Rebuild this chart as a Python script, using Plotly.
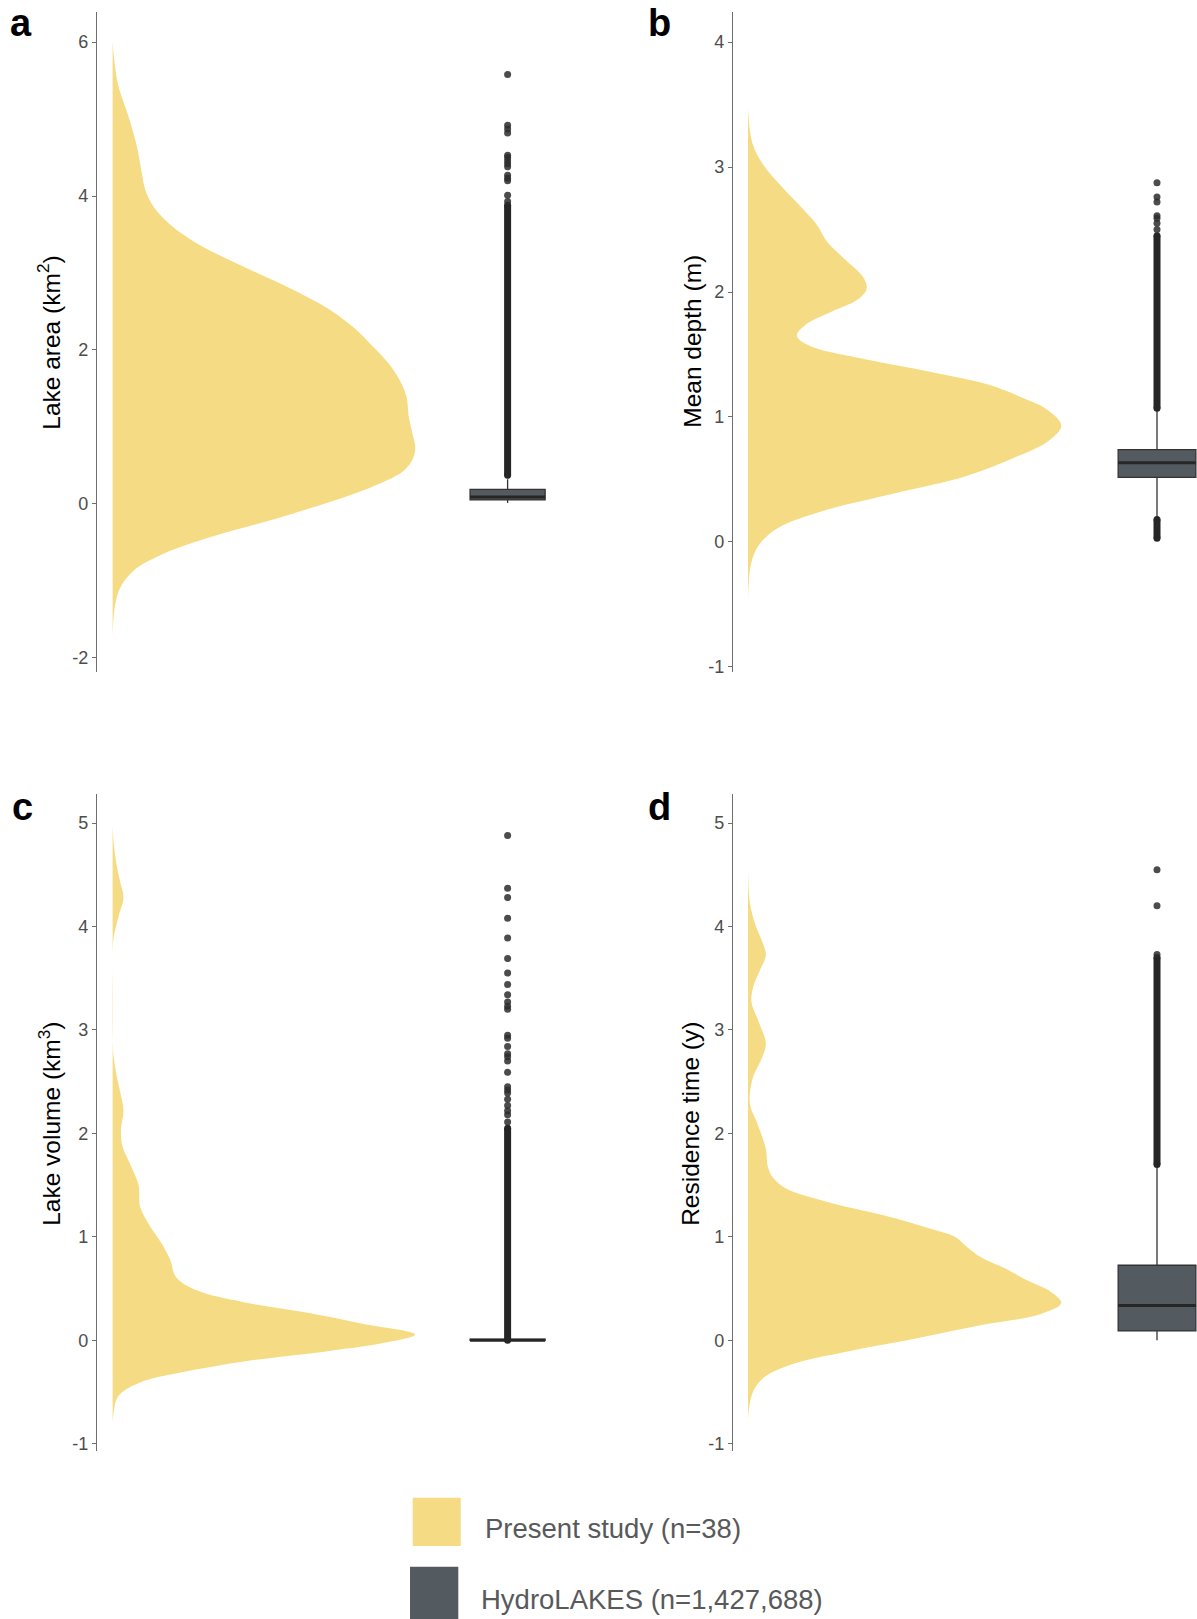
import plotly.graph_objects as go

W, H = 1197, 1619

# ---------------- data ----------------
# Half-violin outlines for the present study: value along the axis and
# relative density width (1 = widest point of that violin)
area_vio_y = [-1.75, -1.55, -1.32, -1.10, -0.87, -0.65, -0.42, -0.20, 0.03, 0.20, 0.37, 0.46,
              0.55, 0.65, 0.75, 0.93, 1.15, 1.38, 1.60, 1.83, 2.06, 2.28, 2.51, 2.73, 2.96,
              3.18, 3.41, 3.63, 3.86, 4.08, 4.31, 4.65, 5.04, 5.43, 5.75, 6.00]
area_vio_w = [0.0, 0.002, 0.008, 0.024, 0.069, 0.168, 0.335, 0.534, 0.723, 0.845, 0.94, 0.97,
              0.988, 0.998, 1.0, 0.99, 0.978, 0.972, 0.95, 0.911, 0.856, 0.80, 0.723, 0.623, 0.50,
              0.379, 0.268, 0.19, 0.135, 0.108, 0.096, 0.08, 0.052, 0.019, 0.006, 0.0]

depth_vio_y = [-0.51, -0.34, -0.16, -0.02, 0.11, 0.25, 0.39, 0.53, 0.67, 0.81, 0.93, 1.05, 1.15,
               1.26, 1.36, 1.46, 1.57, 1.65, 1.74, 1.84, 1.95, 2.03, 2.12, 2.26, 2.40, 2.54,
               2.67, 2.85, 3.02, 3.19, 3.47]
depth_vio_w = [0.0, 0.002, 0.011, 0.036, 0.094, 0.242, 0.47, 0.70, 0.846, 0.96, 1.0, 0.96, 0.88,
               0.766, 0.584, 0.379, 0.196, 0.156, 0.185, 0.265, 0.356, 0.379, 0.367, 0.31, 0.253,
               0.219, 0.173, 0.105, 0.048, 0.014, 0.0]

volume_vio_y = [-0.79, -0.71, -0.54, -0.41, -0.31, -0.20, -0.11, -0.03, 0.055, 0.16, 0.27, 0.37,
                0.48, 0.61, 0.78, 0.95, 1.12, 1.29, 1.50, 1.71, 1.88, 2.05, 2.22, 2.40, 2.56,
                2.75, 2.90, 3.62, 3.88, 4.09, 4.28, 4.43, 4.60, 4.80, 4.98]
volume_vio_w = [0.0, 0.003, 0.019, 0.089, 0.229, 0.445, 0.70, 0.89, 1.0, 0.826, 0.635, 0.43,
                0.28, 0.21, 0.19, 0.159, 0.12, 0.091, 0.086, 0.057, 0.032, 0.028, 0.036, 0.025,
                0.013, 0.003, 0.0, 0.0, 0.003, 0.019, 0.036, 0.025, 0.013, 0.004, 0.0]

restime_vio_y = [-0.79, -0.66, -0.49, -0.36, -0.23, -0.11, 0.02, 0.15, 0.25, 0.36, 0.47, 0.57,
                 0.70, 0.80, 0.90, 1.00, 1.08, 1.21, 1.34, 1.47, 1.57, 1.68, 1.85, 2.10, 2.29,
                 2.53, 2.74, 2.87, 3.08, 3.27, 3.42, 3.59, 3.72, 3.85, 4.02, 4.23, 4.55]
restime_vio_w = [0.0, 0.003, 0.017, 0.051, 0.143, 0.314, 0.54, 0.75, 0.93, 1.0, 0.966, 0.897,
                 0.817, 0.745, 0.70, 0.66, 0.58, 0.43, 0.25, 0.12, 0.08, 0.063, 0.057, 0.029,
                 0.006, 0.015, 0.046, 0.057, 0.034, 0.011, 0.017, 0.04, 0.057, 0.046, 0.023,
                 0.006, 0.0]

# HydroLAKES box statistics: lower fence, Q1, median, Q3, upper fence
area_box = [0.01, 0.05, 0.087, 0.187, 0.32]
depth_box = [0.20, 0.516, 0.633, 0.739, 1.05]
volume_box = [0.0, 0.0, 0.0, 0.01, 0.01]
restime_box = [0.0, 0.09, 0.335, 0.725, 1.67]

# Outliers: continuous runs of overlapping points (low, high) and isolated points
area_dense = [[0.37, 3.88]]
area_out = [5.58, 4.92, 4.87, 4.82, 4.53, 4.50, 4.46, 4.42, 4.38, 4.27, 4.23, 4.20, 4.01, 3.93]
depth_dense = [[1.07, 2.45], [0.03, 0.18]]
depth_out = [2.875, 2.76, 2.72, 2.61, 2.59, 2.55, 2.50]
volume_dense = [[0.0, 2.05]]
volume_out = [4.88, 4.37, 4.28, 4.08, 3.89, 3.69, 3.55, 3.44, 3.34, 3.27, 3.23, 3.20, 2.95,
              2.92, 2.84, 2.77, 2.74, 2.70, 2.59, 2.45, 2.42, 2.39, 2.33, 2.27, 2.22, 2.18, 2.11]
restime_dense = [[1.70, 3.70]]
restime_out = [4.55, 4.20, 3.73]

# Axis ticks and titles
area_ticks = [-2, 0, 2, 4, 6]
depth_ticks = [-1, 0, 1, 2, 3, 4]
volume_ticks = [-1, 0, 1, 2, 3, 4, 5]
restime_ticks = [-1, 0, 1, 2, 3, 4, 5]
titles = ["Lake area (km<sup>2</sup>)", "Mean depth (m)",
          "Lake volume (km<sup>3</sup>)", "Residence time (y)"]
panel_letters = ["a", "b", "c", "d"]
legend_labels = ["Present study (n=38)", "HydroLAKES (n=1,427,688)"]

# ---------------- style ----------------
YELLOW = "#F5DC84"
BOX_FILL = "#535B60"
DARK = "#262626"
FONT = "Liberation Sans, Arial, sans-serif"
VIO_POS, BOX_POS = 1.0, 2.0
VIO_WIDTH = 0.766
BOX_WIDTH = 0.19

fig = go.Figure()

panels = [
    (area_vio_y, area_vio_w, area_box, area_dense, area_out),
    (depth_vio_y, depth_vio_w, depth_box, depth_dense, depth_out),
    (volume_vio_y, volume_vio_w, volume_box, volume_dense, volume_out),
    (restime_vio_y, restime_vio_w, restime_box, restime_dense, restime_out),
]

for i, (vy, vw, box, dense, outl) in enumerate(panels):
    xa = "x" if i == 0 else f"x{i + 1}"
    ya = "y" if i == 0 else f"y{i + 1}"
    # half violin, flat side at VIO_POS
    fig.add_trace(go.Scatter(
        x=[VIO_POS + w * VIO_WIDTH for w in vw], y=vy,
        mode="lines", fill="toself", fillcolor=YELLOW,
        line=dict(width=0, color=YELLOW, shape="spline", smoothing=1.0),
        hoverinfo="skip", showlegend=False, xaxis=xa, yaxis=ya))
    # box with whiskers
    lo, q1, med, q3, hi = box
    fig.add_trace(go.Box(
        x=[BOX_POS], lowerfence=[lo], q1=[q1], median=[med], q3=[q3], upperfence=[hi],
        width=BOX_WIDTH, fillcolor=BOX_FILL, whiskerwidth=0,
        line=dict(color="#333333", width=1.3), boxpoints=False,
        hoverinfo="skip", showlegend=False, xaxis=xa, yaxis=ya))
    # thicker median bar
    fig.add_trace(go.Scatter(
        x=[BOX_POS - BOX_WIDTH / 2, BOX_POS + BOX_WIDTH / 2], y=[med, med],
        mode="lines", line=dict(color=DARK, width=3),
        hoverinfo="skip", showlegend=False, xaxis=xa, yaxis=ya))
    # runs of overlapping outliers
    for a, b in dense:
        fig.add_trace(go.Scatter(
            x=[BOX_POS, BOX_POS], y=[a, b], mode="lines+markers",
            line=dict(color=DARK, width=7), marker=dict(size=7, color=DARK),
            hoverinfo="skip", showlegend=False, xaxis=xa, yaxis=ya))
    # isolated outliers
    fig.add_trace(go.Scatter(
        x=[BOX_POS] * len(outl), y=outl, mode="markers",
        marker=dict(size=7, color="rgba(45,45,45,0.85)", line=dict(width=0)),
        hoverinfo="skip", showlegend=False, xaxis=xa, yaxis=ya))

# ---------------- axes ----------------
left_x = dict(domain=[97 / W, 600 / W], range=[0.9605, 2.2339])
right_x = dict(domain=[733 / W, 1.0], range=[0.9633, 2.0978])
top_y = [1 - 674 / H, 1 - 12.2 / H]
bot_y = [1 - 1456 / H, 1 - 797.3 / H]


def yax(domain, rng, ticks, anchor):
    return dict(domain=domain, range=rng, anchor=anchor,
                tickvals=ticks, ticktext=[str(t) for t in ticks],
                showline=True, linecolor="#6e6e6e", linewidth=1.1,
                ticks="outside", ticklen=4, tickwidth=1.1, tickcolor="#6e6e6e",
                tickfont=dict(family=FONT, size=18, color="#4d4d4d"),
                showgrid=False, zeroline=False, fixedrange=True)


def xax(base, anchor):
    d = dict(base)
    d.update(anchor=anchor, visible=False, showgrid=False, zeroline=False, fixedrange=True)
    return d


fig.update_layout(
    width=W, height=H, margin=dict(l=0, r=0, t=0, b=0),
    paper_bgcolor="white", plot_bgcolor="white", showlegend=False,
    xaxis=xax(left_x, "y"), xaxis2=xax(right_x, "y2"),
    xaxis3=xax(left_x, "y3"), xaxis4=xax(right_x, "y4"),
    yaxis=yax(top_y, [-2.18, 6.39], area_ticks, "x"),
    yaxis2=yax(top_y, [-1.037, 4.24], depth_ticks, "x2"),
    yaxis3=yax(bot_y, [-1.067, 5.278], volume_ticks, "x3"),
    yaxis4=yax(bot_y, [-1.067, 5.278], restime_ticks, "x4"),
)

# ---------------- annotations ----------------
ann = []
title_pos = [(49, 344), (693, 343), (50, 1128), (691, 1128)]
for t, (px, py) in zip(titles, title_pos):
    ann.append(dict(text=t, x=px / W, y=1 - py / H, xref="paper", yref="paper",
                    xanchor="center", yanchor="middle", textangle=-90, showarrow=False,
                    font=dict(family=FONT, size=24.5, color="black")))
letter_pos = [(21, 23.5), (659, 23.5), (22, 810), (659, 810)]
for t, (px, py) in zip(panel_letters, letter_pos):
    ann.append(dict(text=f"<b>{t}</b>", x=px / W, y=1 - py / H, xref="paper", yref="paper",
                    xanchor="center", yanchor="middle", showarrow=False,
                    font=dict(family=FONT, size=38, color="black")))

# legend keys
key_boxes = [(412.7, 1503.3, 460.7, 1551.7, YELLOW), (410.0, 1572.7, 458.3, 1625.0, BOX_FILL)]
label_pos = [(483, 1534.5), (478.5, 1605)]
shapes = []
for (x0, y0, x1, y1, c), lab, (lx, ly) in zip(key_boxes, legend_labels, label_pos):
    shapes.append(dict(type="rect", xref="paper", yref="paper",
                       x0=x0 / W, x1=x1 / W, y0=1 - y1 / H, y1=1 - y0 / H,
                       fillcolor=c, line=dict(width=0)))
    ann.append(dict(text=lab, x=lx / W, y=1 - ly / H, xref="paper", yref="paper",
                    xanchor="left", yanchor="middle", showarrow=False,
                    font=dict(family=FONT, size=27.5, color="#58595b")))

fig.update_layout(annotations=ann, shapes=shapes)

fig.write_html("out.html")
